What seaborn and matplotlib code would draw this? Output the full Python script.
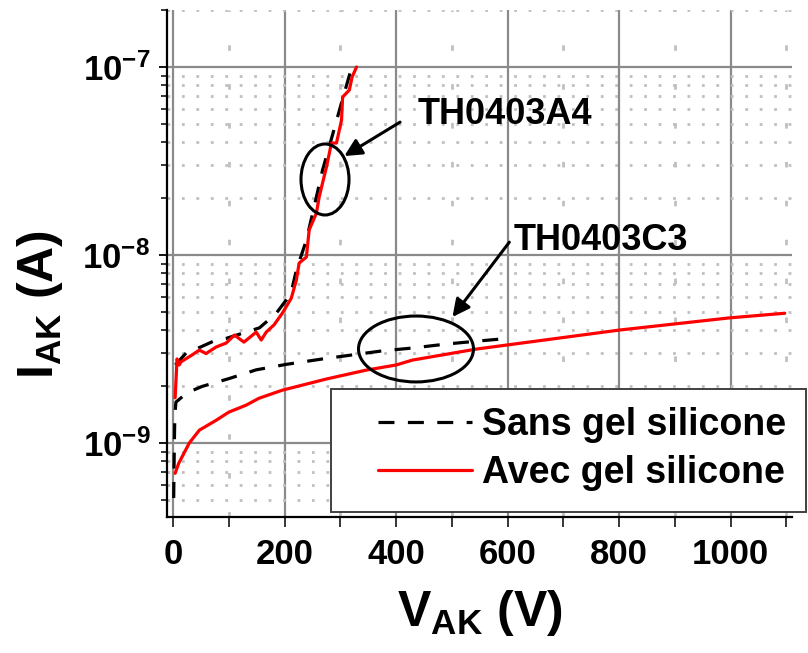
import numpy as np
import pandas as pd
import matplotlib
matplotlib.use("Agg")
import matplotlib.pyplot as plt
import seaborn as sns
from matplotlib.patches import Ellipse, Rectangle
from matplotlib.lines import Line2D
from matplotlib.ticker import MultipleLocator, LogLocator, NullFormatter, LogFormatterSciNotation

# ---------------- data ----------------
# TH0403A4, without silicone gel (black dashed)
a4_sans_v = [4, 25, 35, 77, 95, 131, 155, 185, 203, 214, 221, 239, 257, 268, 285, 302, 320]
a4_sans_i = [2.6e-9, 3.05e-9, 3.1e-9, 3.53e-9, 3.6e-9, 3.89e-9, 4.1e-9, 4.9e-9, 5.77e-9,
             6.76e-9, 8.3e-9, 1.2e-8, 2.04e-8, 2.83e-8, 4.26e-8, 6.45e-8, 9.9e-8]
# TH0403A4, with silicone gel (red)
a4_avec_v = [3.6, 7, 11, 14, 34, 47, 59, 77, 95, 110, 127, 149, 158, 167, 181, 196, 212, 221,
             226, 239, 244, 257, 262, 275, 284, 293, 302, 304, 316, 321, 329]
a4_avec_i = [1.74e-9, 2.8e-9, 2.6e-9, 2.7e-9, 2.94e-9, 3.12e-9, 2.99e-9, 3.24e-9, 3.4e-9,
             3.75e-9, 3.44e-9, 3.89e-9, 3.53e-9, 3.89e-9, 4.25e-9, 4.91e-9, 5.9e-9, 7.36e-9,
             9.06e-9, 9.75e-9, 1.36e-8, 1.67e-8, 2.04e-8, 2.94e-8, 3.94e-8, 3.94e-8, 5.22e-8,
             6.92e-8, 7.54e-8, 8.85e-8, 1.0e-7]
# TH0403C3, without silicone gel (black dashed)
c3_sans_v = [1, 2, 3, 5, 25, 52, 100, 149, 203, 268, 321, 375, 429, 490, 549, 600]
c3_sans_i = [5.1e-10, 9e-10, 1.4e-9, 1.65e-9, 1.85e-9, 2.0e-9, 2.2e-9, 2.45e-9, 2.62e-9,
             2.8e-9, 2.94e-9, 3.09e-9, 3.2e-9, 3.36e-9, 3.49e-9, 3.6e-9]
# TH0403C3, with silicone gel (red)
c3_avec_v = [3.6, 10, 29, 47, 77, 100, 131, 154, 196, 275, 346, 400, 429, 544, 801, 998, 1097]
c3_avec_i = [6.9e-10, 7.8e-10, 1.0e-9, 1.17e-9, 1.32e-9, 1.46e-9, 1.59e-9, 1.73e-9, 1.91e-9,
             2.19e-9, 2.44e-9, 2.6e-9, 2.76e-9, 3.16e-9, 3.99e-9, 4.63e-9, 4.9e-9]

legend_labels = ["Sans gel silicone", "Avec gel silicone"]
device_labels = ["TH0403A4", "TH0403C3"]
x_ticks = [0, 200, 400, 600, 800, 1000]

# ---------------- style ----------------
sns.set_theme(style="white")
plt.rcParams.update({
    "font.family": ["Liberation Sans", "DejaVu Sans"],
    "font.weight": "bold",
    "text.color": "black",
    "axes.labelcolor": "black",
    "xtick.color": "black",
    "ytick.color": "black",
    "mathtext.fontset": "custom",
    "mathtext.rm": "Liberation Sans:bold",
    "mathtext.bf": "Liberation Sans:bold",
    "mathtext.it": "Liberation Sans:bold",
    "mathtext.sf": "Liberation Sans:bold",
    "mathtext.default": "bf",
    "axes.unicode_minus": False,
})

fig = plt.figure(figsize=(8.08, 6.53), dpi=100)
ax = fig.add_axes([167 / 808, 136 / 653, 625 / 808, 507 / 653])
ax.set_yscale("log")

red = "#ff0000"
dash = (0, (5, 4.2))
lw = 2.3
series = [
    (a4_sans_v, a4_sans_i, "black", dash),
    (c3_sans_v, c3_sans_i, "black", dash),
    (c3_avec_v, c3_avec_i, red, "-"),
    (a4_avec_v, a4_avec_i, red, "-"),
]
for v, i, c, ls in series:
    df = pd.DataFrame({"V": v, "I": i})
    sns.lineplot(data=df, x="V", y="I", ax=ax, color=c, linestyle=ls, linewidth=lw,
                 sort=False, estimator=None, legend=False, zorder=3)

ax.set_xlim(-11, 1110)
ax.set_ylim(4.04e-10, 2.01e-7)

ax.xaxis.set_major_locator(matplotlib.ticker.FixedLocator(x_ticks))
ax.xaxis.set_minor_locator(MultipleLocator(100))
ax.yaxis.set_major_locator(LogLocator(base=10, numticks=20))
ax.yaxis.set_minor_locator(LogLocator(base=10, subs=np.arange(2, 10), numticks=50))
ax.yaxis.set_major_formatter(LogFormatterSciNotation())
ax.yaxis.set_minor_formatter(NullFormatter())

ax.grid(which="major", color="#8a8a8a", linewidth=1.6, linestyle="-", zorder=1)
ax.grid(which="minor", axis="y", color="#c0c0c0", linewidth=2.0, linestyle=(0, (1, 4.2)), zorder=0.9)
ax.grid(which="minor", axis="x", color="#c0c0c0", linewidth=2.0, linestyle=(0, (2, 12)), zorder=0.9)

for s in ["top", "right"]:
    ax.spines[s].set_visible(False)
for s in ["left", "bottom"]:
    ax.spines[s].set_color("black")
    ax.spines[s].set_linewidth(1.6)

ax.tick_params(axis="y", which="major", direction="out", length=6, width=1.3, pad=6,
               labelsize=25, color="black", labelcolor="black", left=True)
ax.tick_params(axis="y", which="minor", direction="out", length=4, width=1.1, color="black", left=True)
ax.tick_params(axis="x", which="both", direction="out", length=7, width=1.1, pad=8,
               labelsize=25, color="black", labelcolor="black", bottom=True)
for lab in ax.get_xticklabels() + ax.get_yticklabels():
    lab.set_fontweight("bold")

ax.set_xlabel(r"$\mathbf{V_{AK}}$ (V)", fontsize=36, fontweight="bold", color="black")
ax.set_ylabel(r"$\mathbf{I_{AK}}$ (A)", fontsize=36, fontweight="bold", color="black")
ax.xaxis.set_label_coords(0.5, -0.141)
ax.yaxis.set_label_coords(-0.163, 0.42)

# ---------------- annotations ----------------
ax.add_patch(Ellipse((0.2528, 0.6657), 0.0768, 0.140, transform=ax.transAxes,
                     fill=False, edgecolor="black", linewidth=2.2, zorder=6, clip_on=False))
ax.add_patch(Ellipse((0.3984, 0.3314), 0.184, 0.130, transform=ax.transAxes,
                     fill=False, edgecolor="black", linewidth=2.2, zorder=6, clip_on=False))
arrow_kw = dict(arrowstyle="-|>", color="black", lw=2.2, mutation_scale=26, shrinkA=0, shrinkB=0)
ax.annotate("", xy=(307, 3.36e-8), xytext=(407, 5.09e-8), arrowprops=arrow_kw, zorder=6)
ax.annotate("", xy=(501, 4.68e-9), xytext=(603, 1.17e-8), arrowprops=arrow_kw, zorder=6)
ax.text(438, 5.62e-8, device_labels[0], fontsize=26, fontweight="bold", ha="left", va="center",
        color="black", zorder=6)
ax.text(610, 1.19e-8, device_labels[1], fontsize=26, fontweight="bold", ha="left", va="center",
        color="black", zorder=6)

# ---------------- legend ----------------
frame = Rectangle((331 / 808, 141 / 653), 475 / 808, 123 / 653, transform=fig.transFigure,
                  facecolor="white", edgecolor="#404040", linewidth=1.4, zorder=4)
fig.add_artist(frame)
handles = [Line2D([], [], color="black", linestyle=dash, linewidth=lw),
           Line2D([], [], color=red, linestyle="-", linewidth=lw)]
leg = fig.legend(handles, legend_labels, loc="center left",
                 bbox_to_anchor=(378 / 808, 1 - 449 / 653), bbox_transform=fig.transFigure,
                 frameon=False, borderpad=0, borderaxespad=0, handlelength=2.5,
                 handletextpad=0.27, labelspacing=0.32,
                 prop=dict(family="Liberation Sans", weight="bold", size=27))
for t in leg.get_texts():
    t.set_color("black")
leg.set_zorder(5)

fig.savefig("out.png", dpi=100)
